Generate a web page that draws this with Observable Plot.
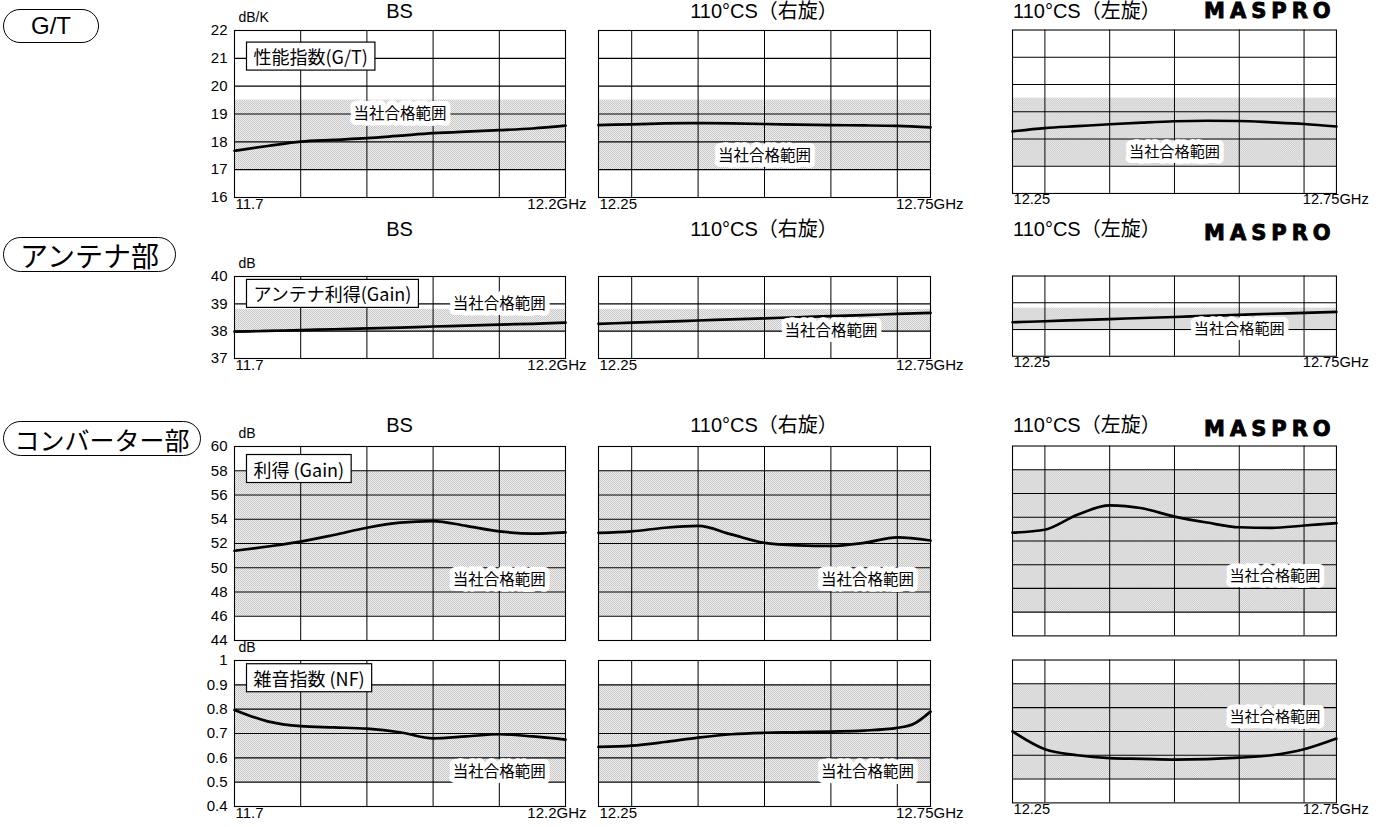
<!DOCTYPE html>
<html>
<head>
<meta charset="utf-8">
<script src="https://cdn.jsdelivr.net/npm/d3@7"></script>
<script src="https://cdn.jsdelivr.net/npm/@observablehq/plot@0.6"></script>
<style>
  html, body { margin: 0; padding: 0; background: #fff; }
  #root { position: relative; width: 1380px; height: 827px; overflow: hidden; font-family: "Liberation Sans", Arial, sans-serif; color: #000; }
  .oval { position: absolute; border: 1.5px solid #000; border-radius: 18px; box-sizing: border-box;
          display: flex; align-items: center; justify-content: center; font-family: "Noto Sans CJK JP", "Liberation Sans", sans-serif; white-space: nowrap; }
  .ctitle { position: absolute; font-family: "Liberation Sans", "Noto Sans CJK JP", sans-serif; font-size: 20px; white-space: nowrap; line-height: 1; }
  .logo { position: absolute; font-family: "DejaVu Sans", sans-serif; font-weight: 900; font-size: 21px; letter-spacing: 5px; line-height: 1; -webkit-text-stroke: 0.9px #000; }
  .panel { position: absolute; }
  .panel svg { overflow: visible; }
</style>
</head>
<body>
<div id="root"></div>
<svg width="0" height="0" style="position:absolute">
  <defs>
    <pattern id="stipple" width="2" height="2" patternUnits="userSpaceOnUse">
      <rect width="2" height="2" fill="#eeeeee"></rect>
      <rect x="0" y="0" width="1" height="1" fill="#c8c8c8"></rect>
      <rect x="1" y="1" width="1" height="1" fill="#c8c8c8"></rect>
    </pattern>
  </defs>
</svg>
<script>
// ---------------- DATA ----------------
const rowNames = ["G/T", "アンテナ部", "コンバーター部"];
const columnTitles = ["BS", "110°CS（右旋）", "110°CS（左旋）"];
const logoText = "MASPRO";
const passLabel = "当社合格範囲";

// frequencies (GHz)
const freqBS = [11.7, 11.75, 11.8, 11.85, 11.9, 11.95, 12.0, 12.05, 12.1, 12.15, 12.2];
const freqCS = [12.25, 12.3, 12.35, 12.4, 12.45, 12.5, 12.55, 12.6, 12.65, 12.7, 12.75];
const freqCSnfRight = [12.25, 12.3, 12.35, 12.4, 12.45, 12.5, 12.55, 12.6, 12.65, 12.7, 12.725, 12.75];
const xDomainBS = [11.7, 12.2];
const xDomainCS = [12.25, 12.75];
const xGridBS = [11.8, 11.9, 12.0, 12.1];
const xGridCS = [12.3, 12.4, 12.5, 12.6, 12.7];
const xLabelsBS = ["11.7", "12.2GHz"];
const xLabelsCS = ["12.25", "12.75GHz"];

// G/T (dB/K)
const gtBS    = [17.68, 17.85, 18.01, 18.07, 18.13, 18.22, 18.31, 18.37, 18.42, 18.48, 18.58];
const gtRight = [18.60, 18.63, 18.66, 18.67, 18.66, 18.64, 18.62, 18.60, 18.59, 18.57, 18.52];
const gtLeft  = [18.28, 18.40, 18.47, 18.54, 18.60, 18.65, 18.67, 18.66, 18.61, 18.55, 18.46];
// Antenna gain (dB)
const antBS    = [37.98, 38.01, 38.04, 38.07, 38.10, 38.13, 38.17, 38.20, 38.24, 38.27, 38.31];
const antRight = [38.27, 38.31, 38.35, 38.39, 38.43, 38.47, 38.51, 38.55, 38.59, 38.63, 38.67];
const antLeft  = [38.27, 38.31, 38.35, 38.39, 38.43, 38.47, 38.51, 38.55, 38.59, 38.62, 38.66];
// Converter gain (dB)
const cgBS    = [51.40, 51.75, 52.15, 52.70, 53.30, 53.72, 53.85, 53.45, 53.00, 52.82, 52.92];
const cgRight = [52.88, 53.00, 53.30, 53.45, 52.75, 52.05, 51.85, 51.80, 52.05, 52.50, 52.25];
const cgLeft  = [52.70, 52.95, 54.20, 55.00, 54.75, 54.05, 53.55, 53.15, 53.10, 53.30, 53.50];
// Noise figure (dB)
const nfBS    = [0.797, 0.750, 0.730, 0.725, 0.720, 0.705, 0.680, 0.688, 0.697, 0.688, 0.675];
const nfRight = [0.645, 0.650, 0.665, 0.683, 0.697, 0.703, 0.705, 0.708, 0.712, 0.723, 0.740, 0.790];
const nfLeft  = [0.700, 0.625, 0.600, 0.588, 0.585, 0.582, 0.584, 0.590, 0.600, 0.625, 0.670];

// y axes
const gtTicks = [16, 17, 18, 19, 20, 21, 22];
const antTicks = [37, 38, 39, 40];
const cgTicks = [44, 46, 48, 50, 52, 54, 56, 58, 60];
const nfTicks = [0.4, 0.5, 0.6, 0.7, 0.8, 0.9, 1];
const nfTickLabels = ["0.4", "0.5", "0.6", "0.7", "0.8", "0.9", "1"];
const units = ["dB/K", "dB", "dB", "dB"];

// pass bands (当社合格範囲)
const gtBand = [17, 19.5];
const antBand = [37.95, 38.8];
const cgBand = [46, 58];
const nfBand = [0.5, 0.9];

// measurement name boxes
const measureNames = ["性能指数(G/T)", "アンテナ利得(Gain)", "利得 (Gain)", "雑音指数 (NF)"];
const measureNameY = [21, 39.3, 58, 0.92];

// pass label positions [x, y] per row and column
const passPosGT  = [[11.95, 19], [12.5, 17.5], [12.5, 17.5]];
const passPosAnt = [[12.1, 39], [12.6, 38], [12.6, 38]];
const passPosCG  = [[12.1, 49], [12.655, 49], [12.655, 49]];
const passPosNF  = [[12.1, 0.54], [12.655, 0.54], [12.655, 0.76]];

// ---------------- LAYOUT ----------------
const colBox = [{left: 234, width: 331, dxEnd: 21}, {left: 598, width: 332, dxEnd: 33}, {left: 1013, width: 331, dxEnd: 33}];
const rowBox = [{top: 30, height: 167}, {top: 276, height: 82}, {top: 446, height: 194}, {top: 660, height: 146}];
const M = {l: 46, r: 45, t: 22, b: 24};

const rows = [
  {domain: [16, 22], ticks: gtTicks, fmt: d => String(d), band: gtBand, series: [gtBS, gtRight, gtLeft], pass: passPosGT},
  {domain: [37, 40], ticks: antTicks, fmt: d => String(d), band: antBand, series: [antBS, antRight, antLeft], pass: passPosAnt},
  {domain: [44, 60], ticks: cgTicks, fmt: d => String(d), band: cgBand, series: [cgBS, cgRight, cgLeft], pass: passPosCG},
  {domain: [0.4, 1], ticks: nfTicks, fmt: (d, i) => nfTickLabels[i], band: nfBand, series: [nfBS, nfRight, nfLeft], pass: passPosNF}
];

const root = document.getElementById("root");
const fontFamily = "'Liberation Sans Narrow', 'Liberation Sans', Arial, sans-serif";
const cjkFamily = "'Noto Sans CJK JP', sans-serif";

rows.forEach((row, ri) => {
  row.series.forEach((vals, ci) => {
    const isBS = ci === 0;
    const xDomain = isBS ? xDomainBS : xDomainCS;
    const xGrid = isBS ? xGridBS : xGridCS;
    const xLabels = isBS ? xLabelsBS : xLabelsCS;
    const freqs = isBS ? freqBS : (ri === 3 && ci === 1 ? freqCSnfRight : freqCS);
    const data = vals.map((v, i) => ({f: freqs[i], v}));
    const cb = colBox[ci], rb = rowBox[ri];
    const gridY = row.ticks.slice(1, -1);
    const marks = [
      Plot.rect([row.band], {x1: xDomain[0], x2: xDomain[1], y1: d => d[0], y2: d => d[1], fill: "url(#stipple)"}),
      Plot.ruleY(gridY, {stroke: "#000", strokeWidth: 1.1}),
      Plot.ruleX(xGrid, {stroke: "#000", strokeWidth: 1}),
      Plot.frame({stroke: "#000", strokeWidth: 1.1}),
      Plot.line(data, {x: "f", y: "v", stroke: "#000", strokeWidth: 2.7, curve: "monotone-x"}),
      Plot.text([row.pass[ci]], {x: d => d[0], y: d => d[1], text: () => passLabel, fontFamily: cjkFamily, fontSize: 15.5,
        fill: "#000", stroke: "#fff", strokeWidth: 10, paintOrder: "stroke", strokeLinejoin: "round"})
    ];
    if (ri !== 2) {
      marks.push(Plot.text([xDomain[0]], {x: d => d, frameAnchor: "bottom", text: () => xLabels[0], textAnchor: "start", dx: 1, dy: 11, fontSize: 15}));
      marks.push(Plot.text([xDomain[1]], {x: d => d, frameAnchor: "bottom", text: () => xLabels[1], textAnchor: "end", dx: cb.dxEnd, dy: 11, fontSize: 15}));
    }
    if (isBS) {
      marks.push(Plot.axisY({ticks: row.ticks, tickSize: 0, tickPadding: 7, tickFormat: row.fmt, fontSize: 15, label: null}));
      marks.push(Plot.text([units[ri]], {x: xDomain[0], y: row.domain[1], text: d => d, textAnchor: "start", dx: 4, dy: -13, fontSize: 14, fontFamily: "'Liberation Sans', Arial, sans-serif"}));
      marks.push(Plot.text([measureNames[ri]], {x: xDomain[0], y: measureNameY[ri], text: d => d, textAnchor: "start", dx: 19,
        fontFamily: cjkFamily, fontSize: 18, className: "namebox"}));
    }
    const chart = Plot.plot({
      width: cb.width + M.l + M.r,
      height: rb.height + M.t + M.b,
      marginLeft: M.l, marginRight: M.r, marginTop: M.t, marginBottom: M.b,
      x: {domain: xDomain, axis: null},
      y: {domain: row.domain, axis: null},
      style: {fontFamily, fontSize: "15px", color: "#000", background: "transparent", overflow: "visible"},
      marks
    });
    const wrap = document.createElement("div");
    wrap.className = "panel";
    wrap.style.left = (cb.left - M.l) + "px";
    wrap.style.top = (rb.top - M.t) + "px";
    wrap.appendChild(chart);
    root.appendChild(wrap);
  });
});

// white boxes with black border behind measurement names
document.querySelectorAll("g.namebox text").forEach(t => {
  const bb = t.getBBox();
  const r = document.createElementNS("http://www.w3.org/2000/svg", "rect");
  r.setAttribute("x", bb.x - 7);
  r.setAttribute("y", bb.y - 1);
  r.setAttribute("width", bb.width + 14);
  r.setAttribute("height", bb.height + 2);
  r.setAttribute("fill", "#fff");
  r.setAttribute("stroke", "#000");
  r.setAttribute("stroke-width", "1.2");
  if (t.getAttribute("transform")) r.setAttribute("transform", t.getAttribute("transform"));
  t.parentNode.insertBefore(r, t);
});

// row name ovals
const ovalBoxes = [
  {left: 3, top: 9, width: 96, height: 34, fs: 24},
  {left: 3, top: 237, width: 173, height: 35, fs: 28},
  {left: 3, top: 421, width: 198, height: 35, fs: 25}
];
rowNames.forEach((n, i) => {
  const o = document.createElement("div");
  o.className = "oval";
  const b = ovalBoxes[i];
  Object.assign(o.style, {left: b.left + "px", top: b.top + "px", width: b.width + "px", height: b.height + "px", fontSize: b.fs + "px"});
  if (i === 0) o.style.fontFamily = "'Liberation Sans', Arial, sans-serif";
  o.textContent = n;
  root.appendChild(o);
});

// column titles for the first three rows + logo
const titleTops = [1, 219, 415];
titleTops.forEach((tp, k) => {
  columnTitles.forEach((t, ci) => {
    const d = document.createElement("div");
    d.className = "ctitle";
    d.textContent = t;
    const cb = colBox[ci];
    if (ci === 2) { d.style.left = cb.left + "px"; }
    else { d.style.left = (cb.left + cb.width / 2) + "px"; d.style.transform = "translateX(-50%)"; }
    d.style.top = tp + "px";
    root.appendChild(d);
  });
  const lg = document.createElement("div");
  lg.className = "logo";
  lg.textContent = logoText;
  lg.style.left = "1204px";
  lg.style.top = (k === 0 ? 1 : tp + 4) + "px";
  root.appendChild(lg);
});
</script>
</body>
</html>
